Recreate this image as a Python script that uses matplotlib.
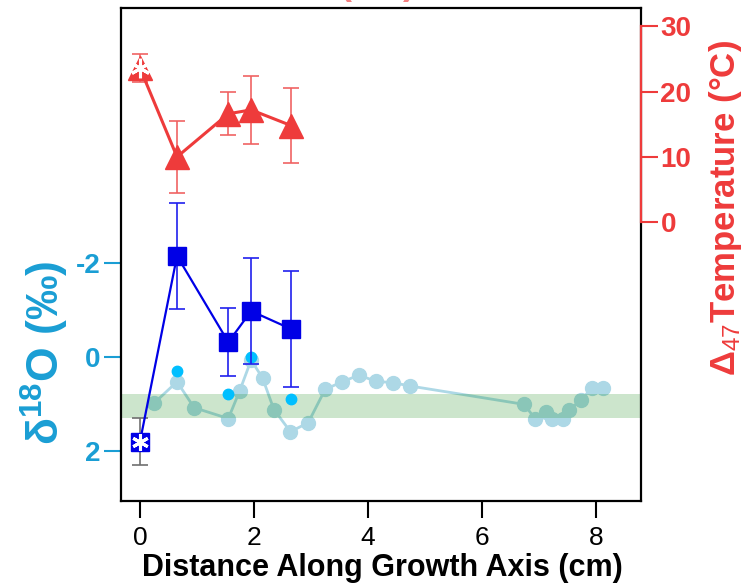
import matplotlib
matplotlib.use("Agg")
import matplotlib.pyplot as plt

plt.rcParams['font.family'] = ['Liberation Sans', 'DejaVu Sans']
plt.rcParams['mathtext.fontset'] = 'custom'
plt.rcParams['mathtext.rm'] = 'Liberation Sans'
plt.rcParams['mathtext.it'] = 'Liberation Sans:italic'
plt.rcParams['mathtext.bf'] = 'Liberation Sans:bold'

# clumped isotope samples (distance in cm)
samp_x = [0.0, 0.65, 1.55, 1.95, 2.65]
temp_c = [23.6, 10.0, 16.6, 17.2, 14.8]
temp_err = [2.2, 5.5, 3.3, 5.2, 5.8]
d18o_samp = [1.80, -2.14, -0.31, -0.97, -0.59]
d18o_samp_err = [0.50, 1.13, 0.72, 1.13, 1.23]

# carbonate d18O at the sample spots
spot_x = [0.65, 1.55, 1.95, 2.65]
spot_d18o = [0.30, 0.80, 0.0, 0.90]

# micromilled d18O profile
prof_x = [0.25, 0.65, 0.95, 1.55, 1.75, 1.95, 2.15, 2.35, 2.64, 2.95, 3.25, 3.55,
          3.84, 4.14, 4.44, 4.74, 6.74, 6.93, 7.13, 7.22, 7.43, 7.53, 7.73, 7.93, 8.13]
prof_d18o = [0.98, 0.53, 1.08, 1.31, 0.72, 0.07, 0.45, 1.12, 1.59, 1.40, 0.69, 0.53,
             0.39, 0.52, 0.55, 0.62, 1.01, 1.31, 1.17, 1.33, 1.31, 1.13, 0.92, 0.67, 0.67]

band_lo, band_hi = 0.79, 1.30

cyan = '#1a9ed4'
red = '#ee3b3b'

fig = plt.figure(figsize=(7.45, 5.83), dpi=100)
ax = fig.add_axes([121/745, 1 - 501/583, 520/745, 493/583])

ax.plot(prof_x, prof_d18o, '-o', color='#add8e6', ms=10, lw=2, zorder=1)
ax.axhspan(band_lo, band_hi, color='green', alpha=0.2, lw=0, zorder=2)
ax.plot(spot_x, spot_d18o, 'o', color='#00bfff', ms=7.5, zorder=3)

ax.errorbar(samp_x[1:], d18o_samp[1:], yerr=d18o_samp_err[1:], fmt='none',
            ecolor='#2020ee', elinewidth=1.2, capsize=6, capthick=1.2, zorder=4)
ax.errorbar(samp_x[:1], d18o_samp[:1], yerr=d18o_samp_err[:1], fmt='none',
            ecolor='#707070', elinewidth=1.2, capsize=6, capthick=1.2, zorder=4)
ax.plot(samp_x, d18o_samp, '-s', color='#0000e6', ms=13, lw=1.6, zorder=5)
ax.plot(samp_x[:1], d18o_samp[:1], marker=(6, 2, 0), color='white', ms=12, mew=2.2,
        zorder=6)

ax.set_xlim(-0.333, 8.79)
ax.set_ylim(3.06, -7.40)
ax.set_xticks([0, 2, 4, 6, 8])
ax.set_yticks([-2, 0, 2])
ax.set_yticklabels(['-2', '0', '2'])
ax.tick_params(axis='x', length=12, width=1.5, labelsize=19, pad=6, top=False)
ax.tick_params(axis='y', length=12, width=1.5, labelsize=20, pad=3, color=cyan,
               labelcolor=cyan, right=False)
for t in ax.get_yticklabels():
    t.set_fontweight('bold')
for s in ax.spines.values():
    s.set_linewidth(1.6)

ax.set_xlabel('Distance Along Growth Axis (cm)', fontsize=22, fontweight='bold',
              va='center')
ax.xaxis.set_label_coords(0.503, -0.135)
ax.set_ylabel(r'$\mathregular{\delta^{18}}$O (‰)', fontsize=32, fontweight='bold',
              color=cyan, va='center')
ax.yaxis.set_label_coords(-0.146, 0.30)

ax2 = ax.twinx()
ax2.errorbar(samp_x, temp_c, yerr=temp_err, fmt='none', ecolor='#f06060',
             elinewidth=1.3, capsize=6, capthick=1.3, alpha=0.9)
ax2.plot(samp_x, temp_c, '-^', color=red, ms=17, lw=2.2)
ax2.plot(samp_x[:1], temp_c[:1], marker=(6, 2, 0), color='white', ms=14, mew=2.2)
ax2.set_ylim(-42.7, 32.8)
ax2.set_yticks([0, 10, 20, 30])
for side in ['left', 'top', 'bottom']:
    ax2.spines[side].set_visible(False)
ax2.spines['right'].set_color(red)
ax2.spines['right'].set_linewidth(1.6)
ax2.spines['right'].set_bounds(0, 30)
ax2.tick_params(axis='y', length=12, width=1.5, labelsize=20, pad=2, color=red,
                labelcolor=red)
for t in ax2.get_yticklabels():
    t.set_fontweight('bold')
ax2.set_ylabel(r'Δ$_{47}$Temperature (°C)', fontsize=25, fontweight='bold',
               color=red, va='center')
ax2.yaxis.set_label_coords(1.162, 0.594)

fig.text(0.507, 0.997, '(CD)', fontsize=26, fontweight='bold', color='#f47f7f',
         ha='center', va='bottom')

fig.savefig('out.png', dpi=100)
